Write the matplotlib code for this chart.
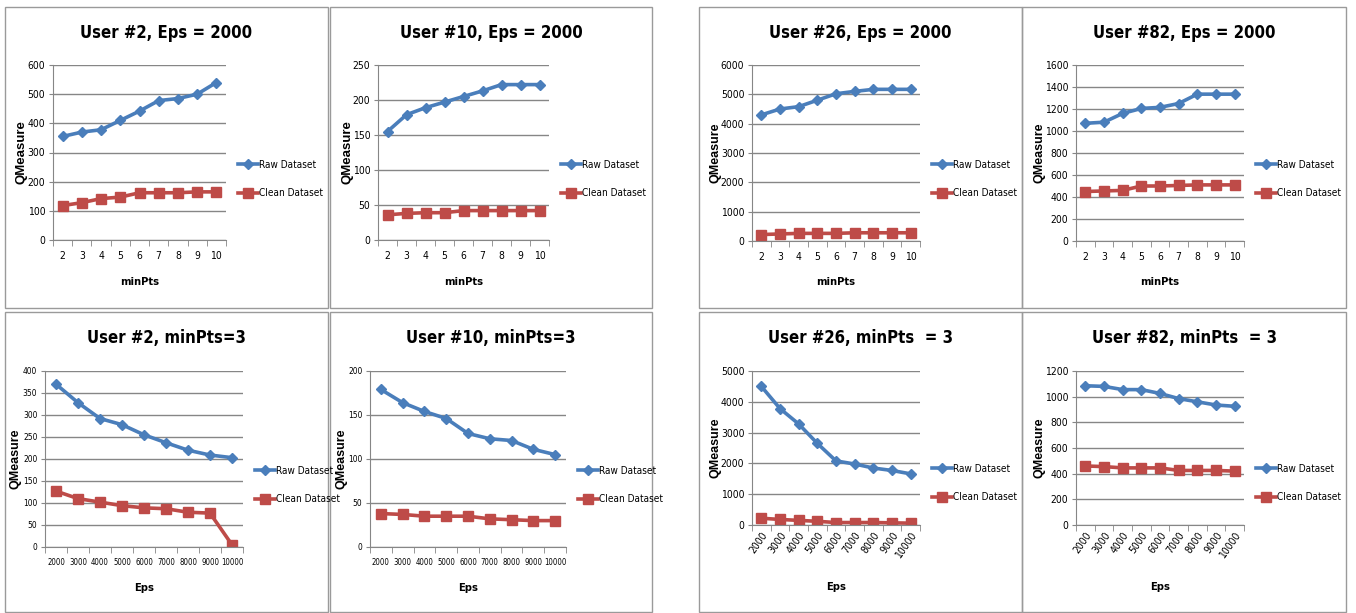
import matplotlib
matplotlib.use("Agg")
from matplotlib import pyplot as plt
from matplotlib import font_manager as fm
from matplotlib.patches import Rectangle
from matplotlib.lines import Line2D

# pick a narrow face if one is installed (Calibri look-alike), else Lato
narrow = None
for f in fm.fontManager.ttflist:
    if 'Narrow' in f.name or 'Condensed' in f.name or f.stretch in ('condensed', 'semi-condensed'):
        narrow = (f.name, f.stretch)
        break
if narrow:
    plt.rcParams['font.family'] = [narrow[0], 'DejaVu Sans']
    plt.rcParams['font.stretch'] = narrow[1]
    SCALE = 1.0
else:
    plt.rcParams['font.family'] = ['Lato', 'DejaVu Sans']
    SCALE = 1.1

minpts = ['2', '3', '4', '5', '6', '7', '8', '9', '10']
eps = ['2000', '3000', '4000', '5000', '6000', '7000', '8000', '9000', '10000']

raw_u2_eps = [355, 370, 378, 410, 442, 478, 485, 500, 540]
clean_u2_eps = [118, 128, 142, 147, 162, 162, 162, 165, 165]
raw_u10_eps = [155, 179, 189, 197, 205, 213, 222, 222, 222]
clean_u10_eps = [36, 38, 39, 39, 42, 42, 42, 42, 42]
raw_u26_eps = [4300, 4500, 4580, 4800, 5020, 5100, 5170, 5170, 5170]
clean_u26_eps = [220, 240, 260, 260, 260, 280, 280, 280, 280]
raw_u82_eps = [1070, 1080, 1160, 1205, 1215, 1250, 1335, 1335, 1335]
clean_u82_eps = [450, 455, 460, 500, 500, 505, 510, 510, 510]

raw_u2_min = [370, 328, 292, 278, 255, 237, 220, 209, 203]
clean_u2_min = [127, 110, 102, 94, 89, 87, 79, 77, 5]
raw_u10_min = [179, 164, 154, 146, 129, 123, 121, 111, 105]
clean_u10_min = [38, 37, 35, 35, 35, 32, 31, 30, 30]
raw_u26_min = [4500, 3780, 3280, 2650, 2080, 1980, 1850, 1770, 1660]
clean_u26_min = [220, 180, 150, 120, 80, 80, 80, 70, 60]
raw_u82_min = [1085, 1080, 1055, 1055, 1025, 985, 960, 935, 925]
clean_u82_min = [460, 455, 445, 445, 445, 425, 425, 425, 420]

W, H = 1356, 613
fig = plt.figure(figsize=(W / 100, H / 100), dpi=100)
fig.patch.set_facecolor('white')

BLUE = '#4A7EBB'
RED = '#BE4B48'
GRID = '#868686'
ARIAL = ['Liberation Sans', 'DejaVu Sans']


def box(x0, y0, x1, y1):
    return [x0 / W, 1 - y1 / H, (x1 - x0) / W, (y1 - y0) / H]


def panel(frame, axbox, title, xcats, raw, clean, ymax, ystep, xlabel,
          ylab_x, xlab_y, leg_y, rot=0, xts=7.5, yts=7.5, yls=9.5):
    fx0, fy0, fx1, fy1 = frame
    fig.patches.append(Rectangle((fx0 / W, 1 - fy1 / H), (fx1 - fx0) / W, (fy1 - fy0) / H,
                                 transform=fig.transFigure, fill=False,
                                 edgecolor='#9a9a9a', linewidth=1.0))
    ax = fig.add_axes(box(*axbox))
    ax.plot(xcats, raw, color=BLUE, lw=2.6, marker='D', ms=5, mec=BLUE)
    ax.plot(xcats, clean, color=RED, lw=2.6, marker='s', ms=6.5, mec=RED)
    ax.set_xlim(-0.5, len(xcats) - 0.5)
    ax.set_ylim(0, ymax)
    ax.set_yticks(range(0, ymax + 1, ystep))
    ax.yaxis.grid(True, color=GRID, lw=1.0)
    ax.set_axisbelow(True)
    for s in ['top', 'right']:
        ax.spines[s].set_visible(False)
    for s in ['left', 'bottom']:
        ax.spines[s].set_color(GRID)
    ax.set_xticks([i - 0.5 for i in range(len(xcats) + 1)], minor=True)
    ax.tick_params(axis='x', which='major', length=0, labelsize=xts * SCALE, pad=8)
    ax.tick_params(axis='x', which='minor', length=4, color=GRID, direction='out')
    ax.tick_params(axis='y', length=3, color=GRID, labelsize=yts * SCALE, pad=2.5)
    if rot:
        plt.setp(ax.get_xticklabels(), rotation=rot, ha='right', va='top',
                 rotation_mode='anchor')
        ax.tick_params(axis='x', which='major', pad=4)
    fig.text((fx0 + fx1) / 2 / W, 1 - (fy0 + 26) / H, title,
             fontsize=12 * SCALE, fontweight='bold', ha='center', va='center')
    fig.text(ylab_x / W, 1 - (axbox[1] + axbox[3]) / 2 / H, 'QMeasure',
             fontsize=yls, fontweight='bold', family=ARIAL, rotation=90,
             ha='center', va='center')
    fig.text((axbox[0] + axbox[2]) / 2 / W, 1 - xlab_y / H, xlabel,
             fontsize=8 * SCALE, fontweight='bold', ha='center', va='center')
    handles = [Line2D([], [], color=BLUE, lw=2.6, marker='D', ms=5),
               Line2D([], [], color=RED, lw=2.6, marker='s', ms=6.5)]
    fig.legend(handles, ['Raw Dataset', 'Clean Dataset'],
               loc='center left', bbox_to_anchor=((axbox[2] + 12) / W, 1 - leg_y / H),
               frameon=False, fontsize=7.2 * SCALE, handlelength=2.0, handletextpad=0.1,
               labelspacing=1.85, borderaxespad=0, borderpad=0)
    return ax


panel((5, 7, 328, 308), (53, 65, 226, 240), 'User #2, Eps = 2000', minpts,
      raw_u2_eps, clean_u2_eps, 600, 100, 'minPts', 22, 282, 179)
panel((330, 7, 652, 308), (378, 65, 549, 240), 'User #10, Eps = 2000', minpts,
      raw_u10_eps, clean_u10_eps, 250, 50, 'minPts', 348, 282, 179)
panel((699, 7, 1022, 308), (752, 65, 920, 241), 'User #26, Eps = 2000', minpts,
      raw_u26_eps, clean_u26_eps, 6000, 1000, 'minPts', 715, 282, 179, yls=9)
panel((1022, 7, 1346, 308), (1076, 65, 1244, 241), 'User #82, Eps = 2000', minpts,
      raw_u82_eps, clean_u82_eps, 1600, 200, 'minPts', 1039, 282, 179, yls=9)

panel((5, 312, 328, 612), (45, 371, 243, 547), 'User #2, minPts=3', eps,
      raw_u2_min, clean_u2_min, 400, 50, 'Eps', 16, 588, 485,
      xts=5.6, yts=6.0, yls=9)
panel((330, 312, 652, 612), (370, 371, 566, 547), 'User #10, minPts=3', eps,
      raw_u10_min, clean_u10_min, 200, 50, 'Eps', 342, 588, 485,
      xts=5.6, yts=6.0, yls=9)
panel((699, 312, 1022, 612), (752, 371, 920, 525), 'User #26, minPts  = 3', eps,
      raw_u26_min, clean_u26_min, 5000, 1000, 'Eps', 715, 587, 483, rot=55, yls=9)
panel((1022, 312, 1346, 612), (1076, 371, 1244, 525), 'User #82, minPts  = 3', eps,
      raw_u82_min, clean_u82_min, 1200, 200, 'Eps', 1039, 587, 483, rot=55, yls=9)

fig.savefig('out.png', dpi=100)
